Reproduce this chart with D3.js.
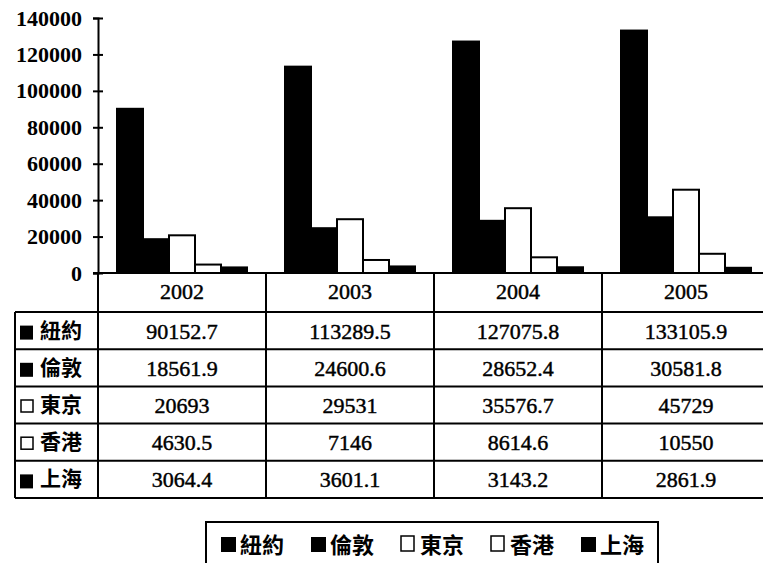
<!DOCTYPE html>
<html>
<head>
<meta charset="utf-8">
<script src="https://cdn.jsdelivr.net/npm/d3@7"></script>
<style>
  body { margin: 0; background: #fff; }
  .num { font-family: 'Liberation Serif', 'Times New Roman', serif; font-size: 22px; fill: #000; stroke: #000; stroke-width: 0.45px; }
  .cjk { font-family: 'Noto Sans CJK TC', 'Noto Sans CJK SC', sans-serif; font-size: 21px; font-weight: bold; fill: #000; }
</style>
</head>
<body>
<div id="chart"></div>
<script>
// data
let years = ['2002', '2003', '2004', '2005']
let cities = ['紐約', '倫敦', '東京', '香港', '上海']
let newYork = [90152.7, 113289.5, 127075.8, 133105.9]
let london = [18561.9, 24600.6, 28652.4, 30581.8]
let tokyo = [20693, 29531, 35576.7, 45729]
let hongKong = [4630.5, 7146, 8614.6, 10550]
let shanghai = [3064.4, 3601.1, 3143.2, 2861.9]
let tableText = [
  ['90152.7', '113289.5', '127075.8', '133105.9'],
  ['18561.9', '24600.6', '28652.4', '30581.8'],
  ['20693', '29531', '35576.7', '45729'],
  ['4630.5', '7146', '8614.6', '10550'],
  ['3064.4', '3601.1', '3143.2', '2861.9']
]
let yTicks = [0, 20000, 40000, 60000, 80000, 100000, 120000, 140000]

let seriesValues = [newYork, london, tokyo, hongKong, shanghai]
let seriesFill = ['#000', '#000', '#fff', '#fff', '#000']

let width = 763
let height = 563

let svg = d3
  .select('#chart')
  .append('svg')
  .attr('width', width)
  .attr('height', height)
  .style('background', '#fff')

let axisX = 98
let plotTop = 18
let plotBottom = 273
let colW = 168

let x0 = d3.scaleBand()
  .domain(years)
  .range([axisX, axisX + colW * years.length])

let x1 = d3.scaleBand()
  .domain(cities)
  .range([19, colW - 19])

let y = d3.scaleLinear()
  .domain([0, 140000])
  .range([plotBottom, plotTop])

// bars
let groups = svg.append('g')
  .selectAll('.year')
  .data(years)
  .enter()
  .append('g')
  .attr('class', 'year')
  .attr('transform', d => `translate(${x0(d)},0)`)

groups.selectAll('rect')
  .data((d, i) => cities.map((c, j) => ({ city: c, value: seriesValues[j][i], fill: seriesFill[j] })))
  .enter()
  .append('rect')
  .attr('x', d => x1(d.city))
  .attr('width', x1.bandwidth())
  .attr('y', d => y(d.value))
  .attr('height', d => y(0) - y(d.value))
  .attr('fill', d => d.fill)
  .attr('stroke', '#000')
  .attr('stroke-width', 2)

// y axis
let yAxis = svg.append('g')
  .attr('transform', `translate(${axisX},0)`)
  .call(d3.axisLeft(y).tickValues(yTicks).tickSize(5).tickPadding(10).tickFormat(d3.format('d')))

yAxis.select('.domain').attr('stroke-width', 2)
yAxis.selectAll('.tick line').attr('x1', -5).attr('x2', 5).attr('stroke-width', 2)
yAxis.selectAll('.tick text')
  .attr('x', -16)
  .style('font-size', '22px')
  .style('font-family', "'Liberation Serif', serif")
  .style('font-weight', 'bold')

// table
let rowTop = 312
let rowH = 37.2
let tableLeft = 15
let tableRight = axisX + colW * years.length
let rowLines = d3.range(cities.length + 1).map(i => rowTop + i * rowH)

let table = svg.append('g').attr('stroke', '#000').attr('stroke-width', 2)

// header and axis baseline
table.append('line')
  .attr('x1', axisX - 5).attr('x2', tableRight)
  .attr('y1', plotBottom).attr('y2', plotBottom)

table.selectAll('.hline')
  .data(rowLines)
  .enter()
  .append('line')
  .attr('x1', tableLeft).attr('x2', tableRight)
  .attr('y1', d => d).attr('y2', d => d)

table.append('line')
  .attr('x1', tableLeft).attr('x2', tableLeft)
  .attr('y1', rowTop).attr('y2', rowLines[rowLines.length - 1])

table.selectAll('.vline')
  .data(years.map(d => x0(d)).concat([tableRight]))
  .enter()
  .append('line')
  .attr('x1', d => d).attr('x2', d => d)
  .attr('y1', plotBottom).attr('y2', rowLines[rowLines.length - 1])

svg.selectAll('.year-label')
  .data(years)
  .enter()
  .append('text')
  .attr('class', 'num')
  .attr('x', d => x0(d) + colW / 2)
  .attr('y', 299)
  .attr('text-anchor', 'middle')
  .text(d => d)

cities.forEach((c, j) => {
  let cy = rowTop + j * rowH + rowH / 2
  svg.append('rect')
    .attr('x', seriesFill[j] === '#000' ? 20 : 21)
    .attr('y', cy - 5)
    .attr('width', seriesFill[j] === '#000' ? 13 : 12)
    .attr('height', seriesFill[j] === '#000' ? 14 : 12)
    .attr('fill', seriesFill[j])
    .attr('stroke', '#000')
    .attr('stroke-width', seriesFill[j] === '#000' ? 0 : 1.5)

  svg.append('text')
    .attr('class', 'cjk')
    .attr('x', 40)
    .attr('y', cy + 7)
    .text(c)

  svg.selectAll('.cell' + j)
    .data(tableText[j])
    .enter()
    .append('text')
    .attr('class', 'num')
    .attr('x', (d, i) => x0(years[i]) + colW / 2)
    .attr('y', cy + 8)
    .attr('text-anchor', 'middle')
    .text(d => d)
})

// legend
let legend = svg.append('g')

legend.append('rect')
  .attr('x', 206)
  .attr('y', 522)
  .attr('width', 452)
  .attr('height', 80)
  .attr('fill', 'none')
  .attr('stroke', '#000')
  .attr('stroke-width', 2)

let legendItem = legend.selectAll('.legend-item')
  .data(cities)
  .enter()
  .append('g')
  .attr('class', 'legend-item')
  .attr('transform', (d, i) => `translate(${221 + i * 90},545)`)

legendItem.append('rect')
  .attr('x', 0)
  .attr('y', (d, i) => seriesFill[i] === '#000' ? -8 : -9)
  .attr('width', (d, i) => seriesFill[i] === '#000' ? 15 : 13)
  .attr('height', 15)
  .attr('fill', (d, i) => seriesFill[i])
  .attr('stroke', '#000')
  .attr('stroke-width', (d, i) => seriesFill[i] === '#000' ? 0 : 1.5)

legendItem.append('text')
  .attr('class', 'cjk')
  .attr('x', 19)
  .attr('y', 8)
  .style('font-size', '22px')
  .text(d => d)
</script>
</body>
</html>
